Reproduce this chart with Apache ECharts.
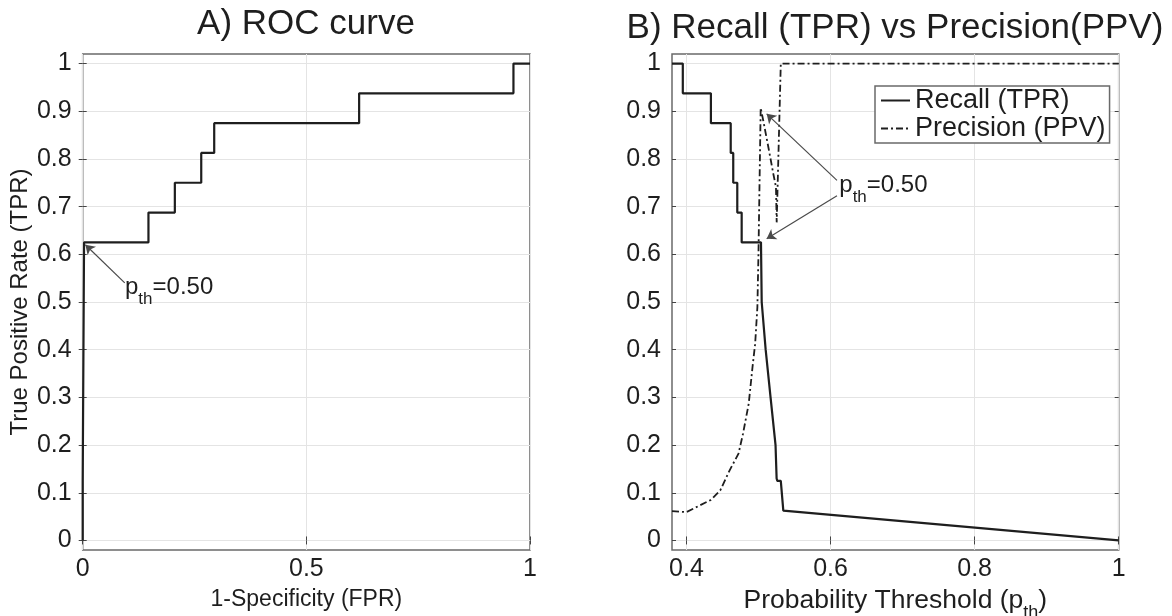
<!DOCTYPE html>
<html>
<head>
<meta charset="utf-8">
<script src="https://cdn.jsdelivr.net/npm/echarts@6/dist/echarts.min.js"></script>
<style>
  html, body { margin: 0; padding: 0; background: #fff; }
  #chart { width: 1172px; height: 616px; }
</style>
</head>
<body>
<div id="chart"></div>
<script>
// A) ROC curve, step points (FPR, TPR)
const rocFpr = [0, 0, 0.003, 0.003, 0.147, 0.147, 0.206, 0.206, 0.265, 0.265, 0.294, 0.294, 0.618, 0.618, 0.963, 0.963, 1];
const rocTpr = [0, 0.125, 0.125, 0.625, 0.625, 0.6875, 0.6875, 0.75, 0.75, 0.8125, 0.8125, 0.875, 0.875, 0.9375, 0.9375, 1, 1];

// B) recall and precision against the probability threshold
const recallTh = [0.38, 0.395, 0.395, 0.434, 0.434, 0.4615, 0.4615, 0.465, 0.465, 0.4706, 0.4706, 0.4767, 0.4767, 0.5035, 0.5045, 0.51, 0.5168, 0.5237, 0.5252, 0.5262, 0.531, 0.5345, 1];
const recallVal = [1, 1, 0.9375, 0.9375, 0.875, 0.875, 0.8125, 0.8125, 0.75, 0.75, 0.6875, 0.6875, 0.625, 0.625, 0.5, 0.4, 0.3, 0.2, 0.13, 0.125, 0.125, 0.0625, 0];
const precTh = [0.38, 0.4, 0.4157, 0.434, 0.447, 0.46, 0.4723, 0.4786, 0.4865, 0.4917, 0.4954, 0.4985, 0.5, 0.5015, 0.5031, 0.5067, 0.5137, 0.5206, 0.5243, 0.5253, 0.531, 1];
const precVal = [0.0614, 0.0594, 0.0713, 0.085, 0.105, 0.147, 0.182, 0.224, 0.287, 0.363, 0.412, 0.489, 0.6, 0.75, 0.907, 0.88, 0.825, 0.769, 0.741, 0.667, 1, 1];

// tick labels
const yTicks = [0, 0.1, 0.2, 0.3, 0.4, 0.5, 0.6, 0.7, 0.8, 0.9, 1];
const rocTicks = [0, 0.5, 1];
const thTicks = [0.4, 0.6, 0.8, 1];

// p_th = 0.50 annotations: [textX, textY], arrows [[fromX, fromY], [toX, toY]]
const annoA = [0.0946, 0.531];
const arrowsA = [[[0.094, 0.54], [0.006, 0.62]]];
const annoB = [0.6122, 0.744];
const arrowsB = [[[0.609, 0.755], [0.5114, 0.8945]], [[0.609, 0.723], [0.5114, 0.6325]]];

const FONT = '"Liberation Sans", Arial, Helvetica, sans-serif';
const INK = '#1e1e1e';
const zip = (a, b) => a.map((v, i) => [v, b[i]]);

const chart = echarts.init(document.getElementById('chart'));

// subscript: smaller text pushed down by top padding
const subRich = (size, subSize, drop) => ({
  n: { fontSize: size, color: INK, fontFamily: FONT },
  s: { fontSize: subSize, color: INK, fontFamily: FONT, padding: [drop, 0, 0, 0] }
});

const xAxisBase = (grid, min, max, ticks, extra) => Object.assign({
  type: 'value', gridIndex: grid, min: min, max: max,
  axisLine: { show: false },
  axisTick: { show: true, inside: true, length: 4, customValues: ticks, lineStyle: { color: '#444', width: 1 } },
  axisLabel: { show: true, customValues: ticks, fontSize: 25, color: INK, fontFamily: FONT, margin: 7 },
  splitLine: { show: true, lineStyle: { color: '#e4e4e4', width: 1 } }
}, extra || {});

const yAxisBase = (grid, extra) => Object.assign({
  type: 'value', gridIndex: grid, min: -0.02, max: 1.02,
  axisLine: { show: false },
  axisTick: { show: true, inside: true, length: 4, customValues: yTicks, lineStyle: { color: '#444', width: 1 } },
  axisLabel: { show: true, customValues: yTicks, fontSize: 25, color: INK, fontFamily: FONT, margin: 11 },
  splitLine: { show: true, lineStyle: { color: '#e4e4e4', width: 1 } }
}, extra || {});

const mirror = { axisLabel: { show: false }, splitLine: { show: false } };

const annoLabel = {
  show: true, position: 'right', distance: 0, color: INK,
  formatter: '{n|p}{s|th}{n|=0.50}', rich: subRich(24, 17, 24)
};

const option = {
  animation: false,
  backgroundColor: '#fff',
  textStyle: { fontFamily: FONT },
  graphic: [
    { type: 'text', x: 306, y: 24, style: { text: 'A) ROC curve', font: '35px ' + FONT, fill: INK, textAlign: 'center', textVerticalAlign: 'middle' } },
    { type: 'text', x: 895, y: 28, style: { text: 'B) Recall (TPR) vs Precision(PPV)', font: '35px ' + FONT, fill: INK, textAlign: 'center', textVerticalAlign: 'middle' } }
  ],
  grid: [
    { left: 82.7, top: 54, width: 447.3, height: 496, show: true, borderColor: '#6a6a6a', borderWidth: 1.5, outerBoundsMode: 'none' },
    { left: 672, top: 54, width: 446.7, height: 496, show: true, borderColor: '#6a6a6a', borderWidth: 1.5, outerBoundsMode: 'none' }
  ],
  legend: {
    data: ['Recall (TPR)', 'Precision (PPV)'],
    orient: 'vertical',
    left: 875, top: 86,
    itemWidth: 29, itemHeight: 14, itemGap: 1,
    padding: [1, 4, 1, 5],
    borderColor: '#6a6a6a', borderWidth: 1.5,
    backgroundColor: '#fff',
    itemStyle: { opacity: 0 },
    textStyle: { fontSize: 27, lineHeight: 27, color: INK, fontFamily: FONT }
  },
  xAxis: [
    xAxisBase(0, 0, 1, rocTicks, {
      name: '1-Specificity (FPR)', nameLocation: 'middle', nameGap: 28,
      nameTextStyle: { fontSize: 23, lineHeight: 26, color: INK, fontFamily: FONT }
    }),
    xAxisBase(1, 0.38, 1, thTicks, {
      name: '{n|Probability Threshold (p}{s|th}{n|)}', nameLocation: 'middle', nameGap: 25,
      nameTextStyle: { rich: subRich(26.5, 18, 26) }
    }),
    xAxisBase(0, 0, 1, rocTicks, Object.assign({ position: 'top' }, mirror)),
    xAxisBase(1, 0.38, 1, thTicks, Object.assign({ position: 'top' }, mirror))
  ],
  yAxis: [
    yAxisBase(0, {
      name: 'True Positive Rate (TPR)', nameLocation: 'middle', nameGap: 48,
      nameTextStyle: { fontSize: 24, lineHeight: 26, color: INK, fontFamily: FONT }
    }),
    yAxisBase(1),
    yAxisBase(0, Object.assign({ position: 'right' }, mirror)),
    yAxisBase(1, Object.assign({ position: 'right' }, mirror))
  ],
  series: [
    {
      name: 'ROC', type: 'line', xAxisIndex: 0, yAxisIndex: 0,
      data: zip(rocFpr, rocTpr), symbol: 'none',
      lineStyle: { color: INK, width: 2.2 }, itemStyle: { color: INK }, z: 5
    },
    {
      name: 'Recall (TPR)', type: 'line', xAxisIndex: 1, yAxisIndex: 1,
      data: zip(recallTh, recallVal), symbol: 'none',
      lineStyle: { color: INK, width: 2.2 }, itemStyle: { color: INK }, z: 5
    },
    {
      name: 'Precision (PPV)', type: 'line', xAxisIndex: 1, yAxisIndex: 1,
      data: zip(precTh, precVal), symbol: 'none',
      lineStyle: { color: INK, width: 1.8, type: [7, 3, 2, 3] }, itemStyle: { color: INK }, z: 5
    },
    {
      type: 'lines', coordinateSystem: 'cartesian2d', xAxisIndex: 0, yAxisIndex: 0,
      symbol: ['none', 'arrow'], symbolSize: 9,
      lineStyle: { color: '#4a4a4a', width: 1.2, opacity: 1 }, itemStyle: { color: '#4a4a4a' },
      data: arrowsA.map(c => ({ coords: c })), z: 6
    },
    {
      type: 'lines', coordinateSystem: 'cartesian2d', xAxisIndex: 1, yAxisIndex: 1,
      symbol: ['none', 'arrow'], symbolSize: 9,
      lineStyle: { color: '#4a4a4a', width: 1.2, opacity: 1 }, itemStyle: { color: '#4a4a4a' },
      data: arrowsB.map(c => ({ coords: c })), z: 6
    },
    {
      type: 'scatter', xAxisIndex: 0, yAxisIndex: 0, symbolSize: 0, silent: true,
      itemStyle: { opacity: 1 }, data: [annoA], label: annoLabel
    },
    {
      type: 'scatter', xAxisIndex: 1, yAxisIndex: 1, symbolSize: 0, silent: true,
      itemStyle: { opacity: 1 }, data: [annoB], label: annoLabel
    }
  ]
};

chart.setOption(option);
</script>
</body>
</html>
